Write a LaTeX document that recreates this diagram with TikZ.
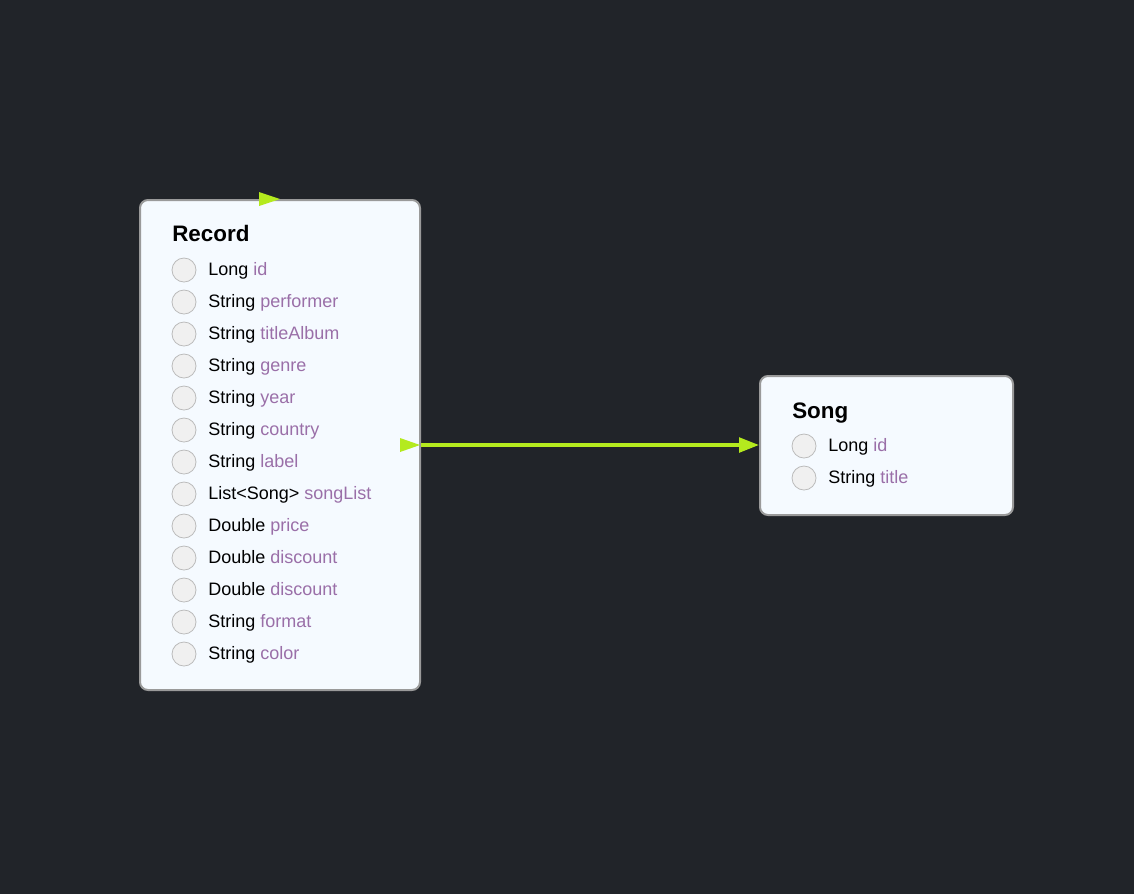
\documentclass[tikz,border=0pt]{standalone}
\usepackage{fontspec}
\setmainfont{Liberation Sans}
\usetikzlibrary{arrows.meta}
\definecolor{bg}{HTML}{212429}
\definecolor{boxfill}{HTML}{F5FAFF}
\definecolor{boxline}{HTML}{9A9A9A}
\definecolor{fieldname}{HTML}{9A6FA8}
\definecolor{dotfill}{HTML}{F0F0F0}
\definecolor{dotline}{HTML}{BBBBBB}
\definecolor{lime}{HTML}{B4EA1E}
\begin{document}
\begin{tikzpicture}[x=0.75pt,y=-0.75pt,
  entity/.style={draw=boxline, line width=1.5pt, fill=boxfill, rounded corners=6pt},
  dot/.style={circle, draw=dotline, line width=0.6pt, fill=dotfill, minimum size=18pt, inner sep=0pt},
  title/.style={anchor=base west, inner sep=0pt, font=\fontsize{16.8}{18}\selectfont\bfseries},
  field/.style={anchor=base west, inner sep=0pt, font=\fontsize{13.5}{15}\selectfont},
  link/.style={draw=lime, line width=2.5pt, -{Triangle[length=15pt,width=11pt]}},
  tip/.style={fill=lime}
]
\fill[bg] (0,0) rectangle (1134,894);
\useasboundingbox (0,0) rectangle (1134,894);

% Record entity
\draw[entity] (140,200) rectangle (420,690);
\node[inner sep=0pt, minimum width=210pt, minimum height=367.5pt] (record) at (280,445) {};
\node[title] (rtitle) at (172,241.5) {Record};
\foreach \i/\t/\n in {0/Long/id,1/String/performer,2/String/titleAlbum,3/String/genre,4/String/year,5/String/country,6/String/label,7/List<Song>/songList,8/Double/price,9/Double/discount,10/Double/discount,11/String/format,12/String/color}{
  \node[dot] (rdot\i) at (184,{270+32*\i}) {};
  \node[field] (rf\i) at (208,{275.5+32*\i}) {\t\ \textcolor{fieldname}{\n}};
}

% Song entity
\draw[entity] (760,376) rectangle (1013,515);
\node[inner sep=0pt, minimum width=189.75pt, minimum height=104.25pt] (song) at (886.5,445.5) {};
\node[title] (stitle) at (792,418) {Song};
\foreach \i/\t/\n in {0/Long/id,1/String/title}{
  \node[dot] (sdot\i) at (804,{446+32*\i}) {};
  \node[field] (sf\i) at (828,{451.5+32*\i}) {\t\ \textcolor{fieldname}{\n}};
}

% connector
\coordinate (rE) at (421,445);
\coordinate (sW) at (759,445);
\draw[link] (rE) -- (sW);

% extra arrowheads
\coordinate (t1) at (420,445);
\fill[tip] (t1) -- ++(-20,-7) -- ++(0,14) -- cycle;
\coordinate (t2) at (280,199);
\fill[tip] (t2) -- ++(-21,-7) -- ++(0,14) -- cycle;
\end{tikzpicture}
\end{document}
